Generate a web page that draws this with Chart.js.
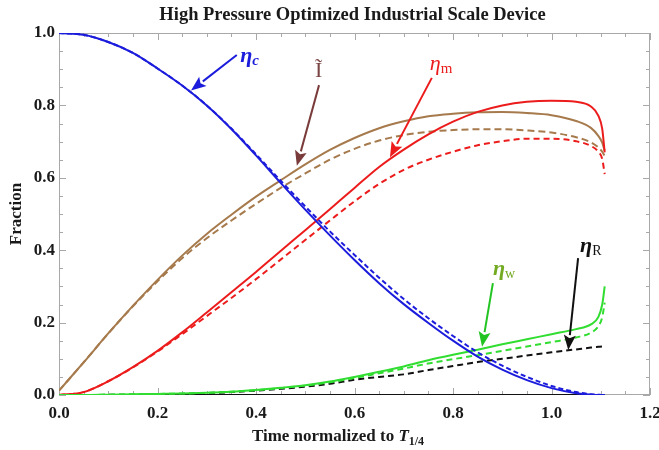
<!DOCTYPE html>
<html>
<head>
<meta charset="utf-8">
<script src="https://cdn.jsdelivr.net/npm/chart.js@4.4.1/dist/chart.umd.min.js"></script>
<style>
  html, body { margin: 0; padding: 0; background: #fff; }
  #wrap { width: 659px; height: 450px; }
</style>
</head>
<body>
<div id="wrap"><canvas id="chart" width="659" height="450"></canvas></div>
<script>
// Time normalized to T_1/4 (shared x for every curve)
const xs = [0, 0.05, 0.1, 0.15, 0.2, 0.25, 0.3, 0.35, 0.4, 0.45, 0.5, 0.55, 0.6,
            0.65, 0.7, 0.75, 0.8, 0.85, 0.9, 0.95, 1.0, 1.05, 1.08, 1.095, 1.103, 1.108];

// eta_c (blue)
const etaC     = [1.0, 0.995, 0.975, 0.945, 0.902, 0.855, 0.80, 0.735, 0.662, 0.586, 0.512, 0.441, 0.373,
                  0.309, 0.251, 0.199, 0.15, 0.106, 0.07, 0.041, 0.019, 0.005, 0.001, 0, 0, 0];
const etaCDash = [1.0, 0.995, 0.975, 0.945, 0.902, 0.855, 0.80, 0.736, 0.665, 0.592, 0.521, 0.452, 0.387,
                  0.324, 0.265, 0.212, 0.163, 0.118, 0.081, 0.05, 0.025, 0.008, 0.002, 0.001, 0, 0];
// I tilde (brown)
const iTilde     = [0.012, 0.09, 0.17, 0.246, 0.318, 0.385, 0.445, 0.498, 0.548, 0.593, 0.637, 0.677, 0.71,
                    0.737, 0.756, 0.77, 0.777, 0.781, 0.782, 0.779, 0.773, 0.757, 0.738, 0.716, 0.697, 0.675];
const iTildeDash = [0.012, 0.09, 0.17, 0.245, 0.314, 0.378, 0.433, 0.482, 0.528, 0.572, 0.612, 0.65, 0.68,
                    0.703, 0.718, 0.727, 0.732, 0.734, 0.734, 0.731, 0.725, 0.712, 0.698, 0.684, 0.672, 0.66];
// eta_m (red)
const etaM     = [0, 0.008, 0.038, 0.077, 0.122, 0.173, 0.228, 0.284, 0.34, 0.398, 0.455, 0.513, 0.572,
                  0.63, 0.678, 0.72, 0.755, 0.782, 0.8, 0.81, 0.813, 0.81, 0.797, 0.772, 0.735, 0.67];
const etaMDash = [0, 0.008, 0.038, 0.076, 0.12, 0.168, 0.218, 0.268, 0.32, 0.374, 0.428, 0.482, 0.535,
                  0.583, 0.622, 0.65, 0.672, 0.69, 0.701, 0.708, 0.708, 0.701, 0.688, 0.672, 0.652, 0.61];
// eta_w (green)
const etaW     = [0, 0, 0.001, 0.002, 0.003, 0.004, 0.006, 0.009, 0.014, 0.02, 0.027, 0.037, 0.05,
                  0.064, 0.079, 0.096, 0.111, 0.125, 0.14, 0.154, 0.168, 0.182, 0.195, 0.215, 0.25, 0.30];
const etaWDash = [0, 0, 0.001, 0.002, 0.003, 0.004, 0.006, 0.009, 0.013, 0.019, 0.026, 0.035, 0.047,
                  0.06, 0.073, 0.087, 0.099, 0.11, 0.122, 0.134, 0.146, 0.159, 0.172, 0.19, 0.215, 0.255];
// eta_R (black)
const etaR     = [0, 0, 0, 0, 0, 0, 0, 0, 0, 0, 0, 0, 0,
                  0, 0, 0, 0, 0, 0, 0, 0, 0, 0, 0, 0, 0];
const etaRDash = [0, 0, 0.0005, 0.001, 0.002, 0.003, 0.005, 0.008, 0.012, 0.017, 0.023, 0.031, 0.042,
                  0.05, 0.057, 0.069, 0.08, 0.091, 0.1, 0.109, 0.118, 0.126, 0.131, 0.133, 0.134, 0.135];

const xTicks = [0, 0.2, 0.4, 0.6, 0.8, 1.0, 1.2];
const yTicks = [0, 0.2, 0.4, 0.6, 0.8, 1.0];

const SERIF = '"Liberation Serif", "Times New Roman", serif';
const colors = {
  blue: '#1c1cdc',
  brown: '#a67a4c',
  red: '#ec1c1c',
  green: '#30dd30',
  black: '#111111'
};

const pts = ys => ys.map((y, i) => ({ x: xs[i], y: y }));

function line(data, color, dash) {
  return {
    data: pts(data),
    borderColor: color,
    borderWidth: 2,
    borderDash: dash || [],
    pointRadius: 0,
    fill: false,
    cubicInterpolationMode: 'monotone'
  };
}

// arrows with labels, given in data units
const notes = [
  { from: [0.361, 0.939], to: [0.268, 0.841], color: colors.blue, at: [0.368, 0.92],
    main: 'η', mainFont: 'italic bold 22px ' + SERIF, sub: 'c', subFont: 'italic bold 15px ' + SERIF, textColor: colors.blue },
  { from: [0.528, 0.856], to: [0.483, 0.633], color: '#7a3b3b', at: [0.52, 0.878],
    main: 'Ĩ', mainFont: '22px ' + SERIF, sub: '', subFont: '', textColor: '#7a4444' },
  { from: [0.757, 0.876], to: [0.672, 0.657], color: colors.red, at: [0.753, 0.898],
    main: 'η', mainFont: 'italic 22px ' + SERIF, sub: 'm', subFont: '15px ' + SERIF, textColor: colors.red },
  { from: [0.881, 0.309], to: [0.859, 0.133], color: '#22c422', at: [0.881, 0.331],
    main: 'η', mainFont: 'italic bold 22px ' + SERIF, sub: 'w', subFont: '14px ' + SERIF, textColor: '#72ab22' },
  { from: [1.054, 0.378], to: [1.034, 0.124], color: colors.black, at: [1.058, 0.395],
    main: 'η', mainFont: 'italic bold 22px ' + SERIF, sub: 'R', subFont: '14px ' + SERIF, textColor: colors.black }
];

// Mathematica-like frame with inward ticks on all sides
const framePlugin = {
  id: 'frame',
  beforeDatasetsDraw(chart) {
    const { ctx, chartArea: { left, right, top, bottom }, scales: { x, y } } = chart;
    ctx.save();
    ctx.strokeStyle = '#a8a8a8';
    ctx.lineWidth = 1;
    ctx.strokeRect(left + 0.5, top + 0.5, right - left - 1, bottom - top - 1);
    ctx.beginPath();
    for (let i = 0; i <= 24; i++) {
      const px = Math.round(x.getPixelForValue(i * 0.05)) + 0.5;
      const len = i % 4 === 0 ? 7 : 4;
      ctx.moveTo(px, bottom); ctx.lineTo(px, bottom - len);
      ctx.moveTo(px, top); ctx.lineTo(px, top + len);
    }
    for (let i = 0; i <= 20; i++) {
      const py = Math.round(y.getPixelForValue(i * 0.05)) + 0.5;
      const len = i % 4 === 0 ? 7 : 4;
      ctx.moveTo(left, py); ctx.lineTo(left + len, py);
      ctx.moveTo(right, py); ctx.lineTo(right - len, py);
    }
    ctx.stroke();
    ctx.restore();
  }
};

const notesPlugin = {
  id: 'notes',
  afterDatasetsDraw(chart) {
    const { ctx, scales: { x, y } } = chart;
    ctx.save();
    notes.forEach(n => {
      const x0 = x.getPixelForValue(n.from[0]), y0 = y.getPixelForValue(n.from[1]);
      const x1 = x.getPixelForValue(n.to[0]), y1 = y.getPixelForValue(n.to[1]);
      const ang = Math.atan2(y1 - y0, x1 - x0);
      const head = 15, half = 6;
      const bx = x1 - head * Math.cos(ang), by = y1 - head * Math.sin(ang);
      ctx.strokeStyle = n.color;
      ctx.fillStyle = n.color;
      ctx.lineWidth = 2;
      ctx.beginPath();
      ctx.moveTo(x0, y0);
      ctx.lineTo(bx, by);
      ctx.stroke();
      ctx.beginPath();
      ctx.moveTo(x1, y1);
      ctx.lineTo(bx + half * Math.sin(ang), by - half * Math.cos(ang));
      ctx.lineTo(bx + 3 * Math.cos(ang), by + 3 * Math.sin(ang));
      ctx.lineTo(bx - half * Math.sin(ang), by + half * Math.cos(ang));
      ctx.closePath();
      ctx.fill();

      const tx = x.getPixelForValue(n.at[0]), ty = y.getPixelForValue(n.at[1]);
      ctx.fillStyle = n.textColor;
      ctx.textBaseline = 'alphabetic';
      ctx.textAlign = 'left';
      ctx.font = n.mainFont;
      ctx.fillText(n.main, tx, ty);
      if (n.sub) {
        const w = ctx.measureText(n.main).width;
        ctx.font = n.subFont;
        ctx.fillText(n.sub, tx + w, ty + 3);
      }
    });
    ctx.restore();
  }
};

// plot title and x-axis title with italic T and subscript
const textPlugin = {
  id: 'texts',
  afterDraw(chart) {
    const { ctx, chartArea: { left, right } } = chart;
    ctx.save();
    ctx.fillStyle = '#1a1a1a';
    ctx.textBaseline = 'alphabetic';
    ctx.textAlign = 'center';
    ctx.font = 'bold 18.5px ' + SERIF;
    ctx.fillText('High Pressure Optimized Industrial Scale Device', (left + right) / 2 - 2, 20);

    ctx.textAlign = 'left';
    const parts = [
      { t: 'Time normalized to ', f: 'bold 17px ' + SERIF, dy: 0 },
      { t: 'T', f: 'italic bold 17px ' + SERIF, dy: 0 },
      { t: '1/4', f: 'bold 12px ' + SERIF, dy: 4 }
    ];
    let total = 0;
    parts.forEach(p => { ctx.font = p.f; total += ctx.measureText(p.t).width; });
    let cx = 338 - total / 2;
    parts.forEach(p => {
      ctx.font = p.f;
      ctx.fillText(p.t, cx, 441 + p.dy);
      cx += ctx.measureText(p.t).width;
    });
    ctx.restore();
  }
};

const tickFont = { family: SERIF, size: 17, weight: 'bold' };

new Chart(document.getElementById('chart').getContext('2d'), {
  type: 'line',
  data: {
    datasets: [
      line(etaC, colors.blue),
      line(etaCDash, colors.blue, [5, 3]),
      line(etaW, colors.green),
      line(etaWDash, colors.green, [6, 4]),
      line(etaRDash, colors.black, [6, 4]),
      line(etaR, colors.black),
      line(etaM, colors.red),
      line(etaMDash, colors.red, [6, 4]),
      line(iTilde, colors.brown),
      line(iTildeDash, colors.brown, [7, 4])
    ]
  },
  options: {
    responsive: false,
    animation: false,
    layout: { padding: { left: 0, right: 9, top: 33, bottom: 0 } },
    plugins: {
      legend: { display: false },
      tooltip: { enabled: false },
      title: { display: false }
    },
    scales: {
      x: {
        type: 'linear',
        min: 0,
        max: 1.2,
        grid: { display: false, drawTicks: false },
        border: { display: false },
        afterBuildTicks: scale => { scale.ticks = xTicks.map(v => ({ value: v })); },
        afterFit: scale => { scale.height = 55; scale.paddingLeft = 0; scale.paddingRight = 0; },
        ticks: {
          padding: 8,
          maxRotation: 0,
          color: '#1a1a1a',
          font: tickFont,
          callback: v => v.toFixed(1)
        }
      },
      y: {
        type: 'linear',
        min: 0,
        max: 1.0,
        grid: { display: false, drawTicks: false },
        border: { display: false },
        afterBuildTicks: scale => { scale.ticks = yTicks.map(v => ({ value: v })); },
        afterFit: scale => { scale.width = 59; },
        title: {
          display: true,
          text: 'Fraction',
          color: '#1a1a1a',
          font: { family: SERIF, size: 17, weight: 'bold' },
          padding: { top: 6, bottom: 0 }
        },
        ticks: {
          padding: 4,
          color: '#1a1a1a',
          font: tickFont,
          callback: v => v.toFixed(1)
        }
      }
    }
  },
  plugins: [framePlugin, notesPlugin, textPlugin]
});
</script>
</body>
</html>
